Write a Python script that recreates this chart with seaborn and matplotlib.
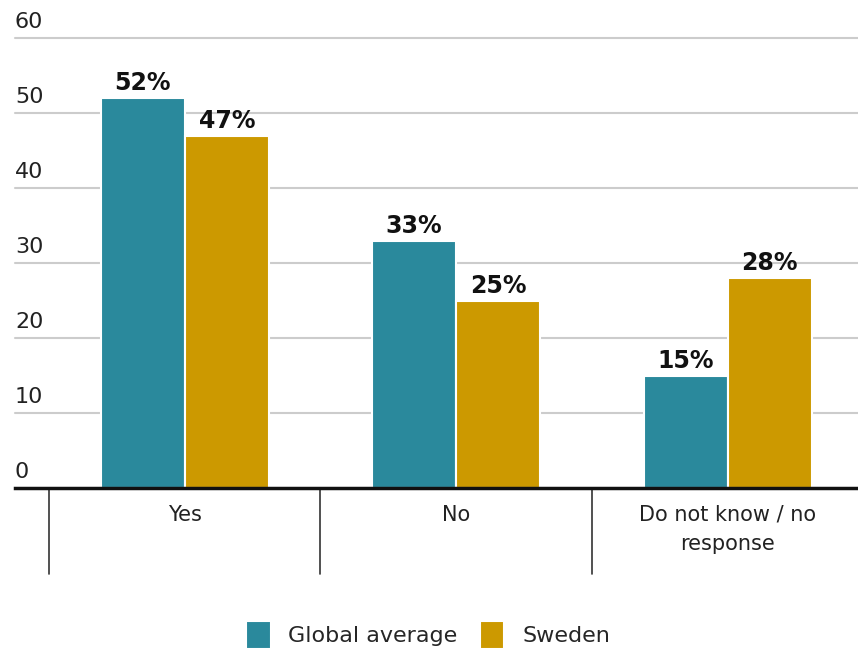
import seaborn as sns
import matplotlib.pyplot as plt
import pandas as pd

sns.set_style("white")
plt.rcParams["font.family"] = ["DejaVu Sans"]

categories = ["Yes", "No", "Do not know / no\nresponse"]
series = ["Global average", "Sweden"]
global_avg = [52, 33, 15]
sweden = [47, 25, 28]
yticks = [0, 10, 20, 30, 40, 50, 60]
colors = ["#2A899C", "#CC9900"]

df = pd.DataFrame({
    "Category": categories * 2,
    "Series": [series[0]] * 3 + [series[1]] * 3,
    "Value": global_avg + sweden,
})

fig = plt.figure(figsize=(8.58, 6.5), dpi=100)
ax = fig.add_axes([15 / 858, 162 / 650, 843 / 858, 450 / 650])

sns.barplot(data=df, x="Category", y="Value", hue="Series", palette=colors,
            saturation=1, width=0.62, edgecolor="white", linewidth=1.5,
            ax=ax, legend=True)

ax.set_xlim(-0.625, 2.48)
ax.set_ylim(0, 60)

# gridlines with labels sitting above them
for t in yticks:
    if t > 0:
        ax.axhline(t, color="#cccccc", lw=1.5, zorder=0, clip_on=False)
    ax.text(0, t + 0.8, str(t), transform=ax.get_yaxis_transform(),
            ha="left", va="bottom", fontsize=16, color="#222222")
ax.set_yticks([])
ax.set_ylabel("")
ax.set_xlabel("")

# value labels
for cont in ax.containers:
    ax.bar_label(cont, labels=[f"{int(v)}%" for v in cont.datavalues],
                 padding=2, fontsize=17, fontweight="bold", color="#111111")

# category labels and separators
ax.set_xticks([])
trans = ax.get_xaxis_transform()
for i, c in enumerate(categories):
    ax.text(i, -0.037, c, transform=trans, ha="center", va="top",
            fontsize=15, color="#222222", linespacing=1.6)
for b in [-0.5, 0.5, 1.5]:
    ax.plot([b, b], [0, -0.19], transform=trans, color="#333333",
            lw=1.2, clip_on=False)

for s in ["top", "right", "left"]:
    ax.spines[s].set_visible(False)
ax.spines["bottom"].set_linewidth(2.5)
ax.spines["bottom"].set_color("#111111")

leg = ax.legend(loc="upper center", bbox_to_anchor=(0.49, -0.25), ncol=2,
                frameon=False, fontsize=16, handlelength=1.1, handleheight=1.6,
                handletextpad=0.8, columnspacing=1.0)

fig.savefig("out.png", dpi=100)
plt.close()
